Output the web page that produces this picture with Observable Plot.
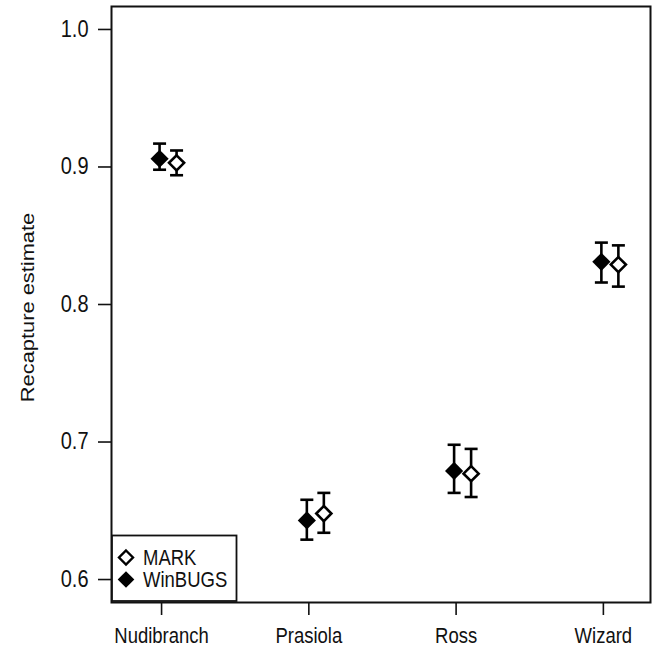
<!DOCTYPE html>
<html>
<head>
<meta charset="utf-8">
<script src="https://cdn.jsdelivr.net/npm/d3@7"></script>
<script src="https://cdn.jsdelivr.net/npm/@observablehq/plot@0.6"></script>
<style>
  html, body { margin: 0; padding: 0; background: #fff; }
  #chart svg { display: block; }
</style>
</head>
<body>
<div id="chart"></div>
<script>
const sites = ["Nudibranch", "Prasiola", "Ross", "Wizard"];
const yTicks = [0.6, 0.7, 0.8, 0.9, 1.0];

// WinBUGS (filled diamonds)
const winbugsEst = [0.906, 0.643, 0.679, 0.831];
const winbugsLo  = [0.898, 0.629, 0.663, 0.816];
const winbugsHi  = [0.917, 0.658, 0.698, 0.845];

// MARK (open diamonds)
const markEst = [0.903, 0.648, 0.677, 0.829];
const markLo  = [0.894, 0.634, 0.660, 0.813];
const markHi  = [0.912, 0.663, 0.695, 0.843];

const legendLabels = ["MARK", "WinBUGS"];

const winbugs = sites.map((s, i) => ({site: s, idx: i + 1, est: winbugsEst[i], lo: winbugsLo[i], hi: winbugsHi[i]}));
const mark = sites.map((s, i) => ({site: s, idx: i + 1, est: markEst[i], lo: markLo[i], hi: markHi[i]}));

const capSymbol = {
  draw(context, size) {
    const w = 6.5;
    context.moveTo(-w, 0);
    context.lineTo(w, 0);
  }
};

const fontFam = "'Liberation Sans', Arial, Helvetica, sans-serif";
const dxW = -2, dxM = 15;
const stretch = 1.15; // reference text is slightly taller than wide

function bars(data, dx) {
  return [
    Plot.ruleX(data, {x: "idx", y1: "lo", y2: "hi", dx, stroke: "black", strokeWidth: 2.6}),
    Plot.dot(data, {x: "idx", y: "lo", dx, symbol: capSymbol, r: 5, stroke: "black", strokeWidth: 2.6, fill: "none"}),
    Plot.dot(data, {x: "idx", y: "hi", dx, symbol: capSymbol, r: 5, stroke: "black", strokeWidth: 2.6, fill: "none"})
  ];
}

const chart = Plot.plot({
  width: 652,
  height: 652,
  marginLeft: 111,
  marginRight: 2,
  marginTop: 6,
  marginBottom: 50,
  style: {fontFamily: fontFam, fontSize: "19px", color: "#111", background: "white"},
  x: {type: "linear", domain: [0.66, 4.32], label: null},
  y: {domain: [0.5833, 1.0167], label: null},
  marks: [
    Plot.frame({stroke: "#111", strokeWidth: 2}),
    Plot.axisY({ticks: yTicks, tickFormat: d3.format(".1f"), tickSize: 13, tickPadding: 10, strokeWidth: 1.6, fontSize: 20, label: null}),
    Plot.axisX({ticks: [1, 2, 3, 4], tickFormat: d => sites[d - 1], tickSize: 13, tickPadding: 13, strokeWidth: 1.6, fontSize: 18.5, label: null}),
    Plot.text(["Recapture estimate"], {frameAnchor: "left", textAnchor: "middle", dx: -84, dy: 3, rotate: -90, fontSize: 19, fill: "#111"}),
    ...bars(mark, dxM),
    ...bars(winbugs, dxW),
    Plot.dot(winbugs, {x: "idx", y: "est", dx: dxW, symbol: "diamond2", r: 8.2, fill: "black", stroke: "none"}),
    Plot.dot(mark, {x: "idx", y: "est", dx: dxM, symbol: "diamond2", r: 6.8, fill: "white", stroke: "black", strokeWidth: 2.6})
  ]
});

document.getElementById("chart").appendChild(chart);

// Legend box (bottom-left, inside plot)
const svg = d3.select(chart);
const g = svg.append("g").attr("text-anchor", "start");
g.append("rect")
  .attr("x", 112).attr("y", 535.5).attr("width", 124.5).attr("height", 65.5)
  .attr("fill", "white").attr("stroke", "#111").attr("stroke-width", 1.8);
legendLabels.forEach((label, i) => {
  const filled = i === 1;
  const cy = 557.5 + i * 22;
  g.append("path")
    .attr("d", d3.symbol(d3.symbolDiamond2, Math.PI * (filled ? 7.5 : 6.3) ** 2)())
    .attr("transform", `translate(126,${cy})`)
    .attr("fill", filled ? "black" : "white")
    .attr("stroke", filled ? "none" : "black")
    .attr("stroke-width", 2.4);
  g.append("text").attr("x", 143).attr("y", cy + 7)
    .attr("text-anchor", "start")
    .attr("font-family", fontFam).attr("font-size", 18.5).attr("fill", "#111")
    .text(label);
});

// Stretch text vertically (in screen space) about each label's own centre
svg.selectAll("text").each(function () {
  const bb = this.getBBox();
  const cx = bb.x + bb.width / 2, cy = bb.y + bb.height / 2;
  const rotated = (this.getAttribute("transform") || "").includes("rotate");
  const sc = rotated ? `scale(${stretch},1)` : `scale(1,${stretch})`;
  const t = this.getAttribute("transform") || "";
  this.setAttribute("transform", `${t} translate(${cx},${cy}) ${sc} translate(${-cx},${-cy})`);
});
</script>
</body>
</html>
